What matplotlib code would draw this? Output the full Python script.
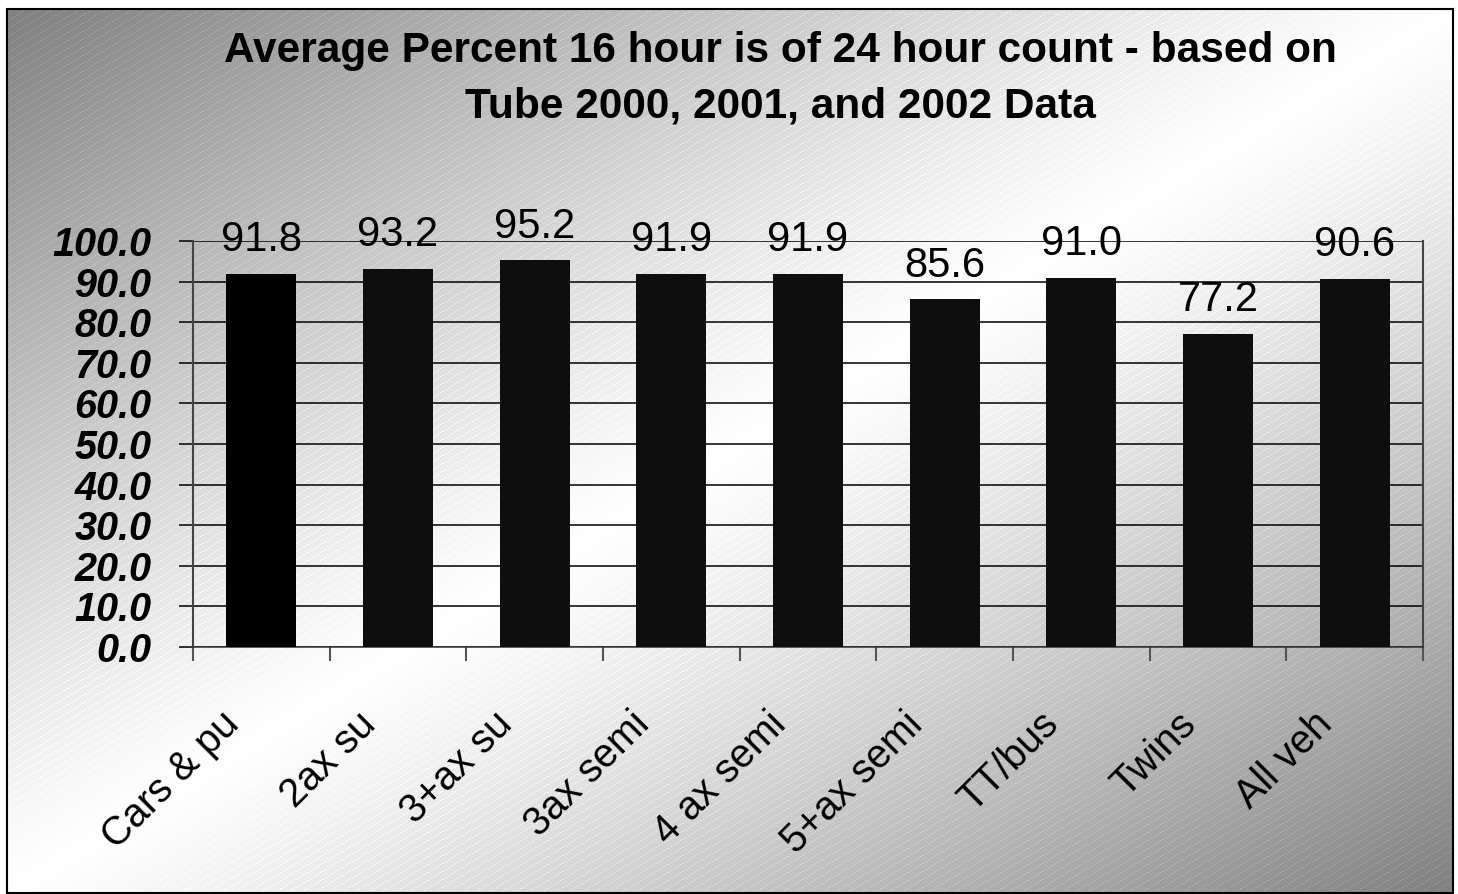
import numpy as np
import matplotlib
matplotlib.use("Agg")
import matplotlib.pyplot as plt
from matplotlib.transforms import ScaledTranslation, blended_transform_factory
from matplotlib.patches import Rectangle

plt.rcParams['font.family'] = ['Liberation Sans', 'DejaVu Sans']

categories = ["Cars & pu", "2ax su", "3+ax su", "3ax semi", "4 ax semi",
              "5+ax semi", "TT/bus", "Twins", "All veh"]
values = [91.8, 93.2, 95.2, 91.9, 91.9, 85.6, 91.0, 77.2, 90.6]
yticks = [0, 10, 20, 30, 40, 50, 60, 70, 80, 90, 100]
title_lines = ["Average Percent 16 hour is of 24 hour count - based on",
               "Tube 2000, 2001, and 2002 Data"]

W, H, DPI = 1458, 894, 100
fig = plt.figure(figsize=(W / DPI, H / DPI), dpi=DPI)

# Background: diagonal grey-white-grey gradient with faint light stripes
bg = fig.add_axes([0, 0, 1, 1], zorder=0)
bg.set_xlim(0, W)
bg.set_ylim(H, 0)
bg.axis("off")
x0, x1, y0, y1 = 7, 1453, 9, 893
xx, yy = np.meshgrid(np.arange(x0, x1), np.arange(y0, y1))
t = ((xx - x0) / (x1 - x0) + (yy - y0) / (y1 - y0)) / 2
g = 255 - 127 * np.abs(2 * t - 1) ** 1.15
stripes = (((yy + 0.6 * xx) % 8) < 1.0) & (xx % 3 != 0)
g = np.where(stripes, np.minimum(g + 20, 255), g)
img = np.dstack([g, g, g]).astype(np.uint8)
bg.imshow(img, extent=(x0, x1, y1, y0), interpolation="nearest", aspect="auto")
bg.add_patch(Rectangle((x0, y0), x1 - x0, y1 - y0, fill=False,
                       edgecolor="black", linewidth=1.5))

# Title
cx = 780 / W
fig.text(cx, 1 - 62 / H, title_lines[0], ha="center", va="baseline",
         fontsize=30.5, fontweight="bold", zorder=5)
fig.text(cx, 1 - 117 / H, title_lines[1], ha="center", va="baseline",
         fontsize=30.5, fontweight="bold", zorder=5)

# Plot area
left, right, bottom, top = 193, 1423, 647, 241
ax = fig.add_axes([left / W, 1 - bottom / H, (right - left) / W, (bottom - top) / H],
                  zorder=2)
ax.patch.set_alpha(0)

xpos = np.arange(len(categories))
colors = ["#000000"] + ["#0e0e0e"] * (len(categories) - 1)
ax.bar(xpos, values, width=0.51, color=colors, zorder=3)

ax.set_xlim(-0.5, len(categories) - 0.5)
ax.set_ylim(0, 100)
ax.set_yticks(yticks)
ax.set_yticklabels([f"{v:.1f}" for v in yticks], fontsize=28.5,
                   fontweight="bold", fontstyle="italic")
ax.yaxis.grid(True, color="black", linewidth=1.1, zorder=1)
ax.set_axisbelow(True)
ax.tick_params(axis="y", length=10, width=1.1, color="black", pad=20)

# Category boundaries as x ticks
ax.set_xticks(np.arange(-0.5, len(categories), 1.0))
ax.set_xticklabels([])
ax.tick_params(axis="x", length=10, width=1.5, color="#555555")

for side in ["left", "right"]:
    ax.spines[side].set_color("#444444")
    ax.spines[side].set_linewidth(1.5)
ax.spines["top"].set_visible(False)
ax.spines["bottom"].set_color("#333333")
ax.spines["bottom"].set_linewidth(1.1)

# Value labels above bars
for xp, v in zip(xpos, values):
    ax.annotate(f"{v:.1f}", (xp, v), xytext=(0, 16.5), textcoords="offset points",
                ha="center", va="baseline", fontsize=30, zorder=4,
                annotation_clip=False)

# Rotated category labels
trans = blended_transform_factory(ax.transData, ax.transAxes) + \
    ScaledTranslation(-15 / DPI, -58 / DPI, fig.dpi_scale_trans)
for xp, name in zip(xpos, categories):
    ax.text(xp, 0, name, transform=trans, rotation=45, ha="right", va="top",
            fontsize=28.5, clip_on=False)

fig.savefig("out.png", dpi=DPI)
